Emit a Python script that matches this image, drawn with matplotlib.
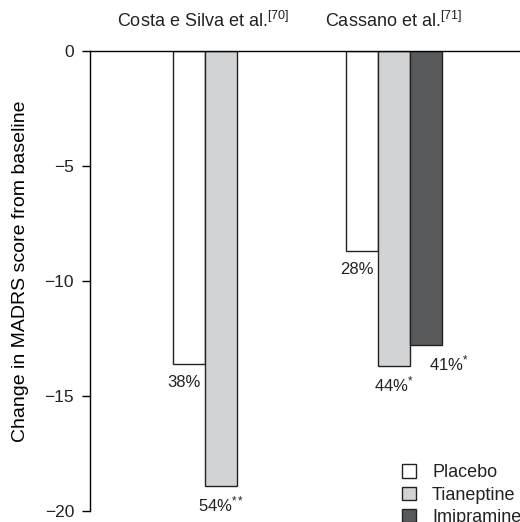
import matplotlib
matplotlib.use("Agg")
import matplotlib.pyplot as plt

plt.rcParams['font.family'] = ['Liberation Sans', 'DejaVu Sans']
plt.rcParams['mathtext.fontset'] = 'custom'
plt.rcParams['mathtext.rm'] = 'Liberation Sans'
plt.rcParams['mathtext.it'] = 'Liberation Sans'
plt.rcParams['mathtext.default'] = 'rm'
plt.rcParams['text.color'] = '#222222'

# data
studies = [r'Costa e Silva et al.$^{[70]}$', r'Cassano et al.$^{[71]}$']
treatments = ['Placebo', 'Tianeptine', 'Imipramine']
colors = ['#ffffff', '#d1d3d4', '#58595b']
costa_values = [-13.6, -18.9]
costa_labels = ['38%', r'54%$^{**}$']
cassano_values = [-8.7, -13.7, -12.8]
cassano_labels = ['28%', r'44%$^{*}$', r'41%$^{*}$']

fig = plt.figure(figsize=(5.2, 5.22), dpi=100)
ax = fig.add_axes([90 / 520, 1 - 511 / 522, 430 / 520, 460 / 522])

w = 1.0
costa_x = [3.09, 4.09]
cassano_x = [8.5, 9.5, 10.5]

bars = []
for x, v, c in zip(costa_x, costa_values, colors):
    ax.bar(x, v, width=w, color=c, edgecolor='#222222', linewidth=1.0)
for x, v, c, t in zip(cassano_x, cassano_values, colors, treatments):
    b = ax.bar(x, v, width=w, color=c, edgecolor='#222222', linewidth=1.0, label=t)
    bars.append(b)

# percentage labels under bars
lab_off = [(-0.15, -0.8), (0.0, -0.8)]
for x, v, s, (dx, dy) in zip(costa_x, costa_values, costa_labels, lab_off):
    ax.text(x + dx, v + dy, s, ha='center', va='center', fontsize=12)
cas_off = [(-0.15, -0.8), (0.0, -0.8), (0.7, -0.8)]
for x, v, s, (dx, dy) in zip(cassano_x, cassano_values, cassano_labels, cas_off):
    ax.text(x + dx, v + dy, s, ha='center', va='center', fontsize=12)

# study titles
fig.text(203 / 520, 1 - 21 / 522, studies[0], ha='center', va='center', fontsize=13)
fig.text(394 / 520, 1 - 21 / 522, studies[1], ha='center', va='center', fontsize=13)

ax.set_xlim(0, 430 / 32)
ax.set_ylim(-20, 0)
ax.set_yticks([0, -5, -10, -15, -20])
ax.set_yticklabels(['0', '\u22125', '\u221210', '\u221215', '\u221220'], fontsize=12.5,
                   color='#222222')
ax.set_xticks([])
ax.spines['right'].set_visible(False)
ax.spines['bottom'].set_visible(False)
ax.spines['top'].set_linewidth(1.0)
ax.spines['left'].set_linewidth(1.0)
ax.tick_params(axis='y', length=5.5, width=1.0, pad=6)
ax.set_ylabel('Change in MADRS score from baseline', fontsize=14)
ax.yaxis.set_label_coords(-0.142, 0.522)
ax.patch.set_alpha(0)

fig.legend(handles=bars, labels=treatments, loc='upper left',
           bbox_to_anchor=(395 / 520, 1 - 457 / 522), frameon=False,
           fontsize=13, handlelength=0.75, handleheight=0.75,
           handletextpad=0.9, labelspacing=0.3, borderaxespad=0)

fig.savefig('out.png', dpi=100)
